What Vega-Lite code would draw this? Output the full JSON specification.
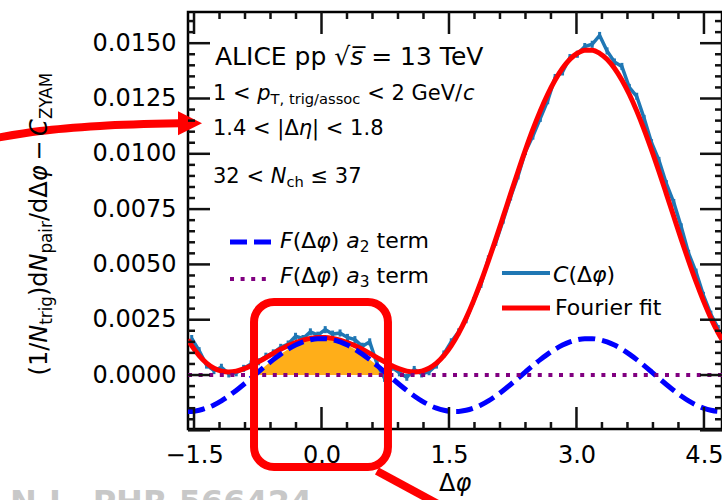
{
  "$schema": "https://vega.github.io/schema/vega-lite/v6.json",
  "width": 534,
  "height": 417,
  "autosize": {"type": "none"},
  "padding": {"left": 188, "top": 12, "right": 0, "bottom": 71},
  "background": "white",
  "config": {
    "view": {"stroke": "black", "strokeWidth": 2.5},
    "font": "DejaVu Sans",
    "axis": {"grid": false, "domain": false, "labelColor": "black", "labelFont": "DejaVu Sans", "labelFontSize": 24, "labelOverlap": false, "labelFlush": false}
  },
  "datasets": {
    "obs": [
      {"x": -1.5272, "y": 0.00165, "err": 0.00016}, {"x": -1.4399, "y": 0.0011, "err": 0.00016},
      {"x": -1.3526, "y": 0.00045, "err": 0.00016}, {"x": -1.2654, "y": 0.0002, "err": 0.00016},
      {"x": -1.1781, "y": 0.00035, "err": 0.00016}, {"x": -1.0908, "y": 0.00005, "err": 0.00016},
      {"x": -1.0036, "y": 0.0001, "err": 0.00016}, {"x": -0.9163, "y": 0.0003, "err": 0.00016},
      {"x": -0.829, "y": 0.0005, "err": 0.00016}, {"x": -0.7418, "y": 0.0006, "err": 0.00016},
      {"x": -0.6545, "y": 0.00085, "err": 0.00016}, {"x": -0.5672, "y": 0.001, "err": 0.00016},
      {"x": -0.48, "y": 0.00125, "err": 0.00016}, {"x": -0.3927, "y": 0.0014, "err": 0.00016},
      {"x": -0.3054, "y": 0.00175, "err": 0.00016}, {"x": -0.2182, "y": 0.00165, "err": 0.00016},
      {"x": -0.1309, "y": 0.00195, "err": 0.00016}, {"x": -0.0436, "y": 0.0018, "err": 0.00016},
      {"x": 0.0436, "y": 0.00205, "err": 0.00016}, {"x": 0.1309, "y": 0.00185, "err": 0.00016},
      {"x": 0.2182, "y": 0.0019, "err": 0.00016}, {"x": 0.3054, "y": 0.0017, "err": 0.00016},
      {"x": 0.3927, "y": 0.0016, "err": 0.00016}, {"x": 0.48, "y": 0.0013, "err": 0.00016},
      {"x": 0.5672, "y": 0.0015, "err": 0.00016}, {"x": 0.6545, "y": 0.0005, "err": 0.00016},
      {"x": 0.7418, "y": -0.00015, "err": 0.00016}, {"x": 0.829, "y": 0.00035, "err": 0.00016},
      {"x": 0.9163, "y": 0.0001, "err": 0.00016}, {"x": 1.0036, "y": -0.0001, "err": 0.00016},
      {"x": 1.0908, "y": 0.00025, "err": 0.00016}, {"x": 1.1781, "y": 0.00005, "err": 0.00016},
      {"x": 1.2654, "y": 0.00015, "err": 0.00016}, {"x": 1.3526, "y": 0.00045, "err": 0.00016},
      {"x": 1.4399, "y": 0.00095, "err": 0.00016}, {"x": 1.5272, "y": 0.0015, "err": 0.00016},
      {"x": 1.6144, "y": 0.00195, "err": 0.00016}, {"x": 1.7017, "y": 0.0025, "err": 0.00016},
      {"x": 1.789, "y": 0.00335, "err": 0.00016}, {"x": 1.8762, "y": 0.0041, "err": 0.00016},
      {"x": 1.9635, "y": 0.00525, "err": 0.00016}, {"x": 2.0508, "y": 0.006, "err": 0.00016},
      {"x": 2.138, "y": 0.007, "err": 0.00016}, {"x": 2.2253, "y": 0.00805, "err": 0.00016},
      {"x": 2.3126, "y": 0.009, "err": 0.00016}, {"x": 2.3998, "y": 0.0101, "err": 0.00016},
      {"x": 2.4871, "y": 0.0108, "err": 0.00016}, {"x": 2.5744, "y": 0.0116, "err": 0.00016},
      {"x": 2.6616, "y": 0.0124, "err": 0.00016}, {"x": 2.7489, "y": 0.01345, "err": 0.00016},
      {"x": 2.8362, "y": 0.0137, "err": 0.00016}, {"x": 2.9234, "y": 0.01435, "err": 0.00016},
      {"x": 3.0107, "y": 0.0145, "err": 0.00016}, {"x": 3.098, "y": 0.01485, "err": 0.00016},
      {"x": 3.1852, "y": 0.01495, "err": 0.00016}, {"x": 3.2725, "y": 0.01535, "err": 0.00016},
      {"x": 3.3598, "y": 0.01465, "err": 0.00016}, {"x": 3.447, "y": 0.01415, "err": 0.00016},
      {"x": 3.5343, "y": 0.01395, "err": 0.00016}, {"x": 3.6216, "y": 0.013, "err": 0.00016},
      {"x": 3.7088, "y": 0.0126, "err": 0.00016}, {"x": 3.7961, "y": 0.0116, "err": 0.00016},
      {"x": 3.8834, "y": 0.0105, "err": 0.00016}, {"x": 3.9706, "y": 0.0097, "err": 0.00016},
      {"x": 4.0579, "y": 0.00865, "err": 0.00016}, {"x": 4.1452, "y": 0.0078, "err": 0.00016},
      {"x": 4.2324, "y": 0.0067, "err": 0.00016}, {"x": 4.3197, "y": 0.0055, "err": 0.00016},
      {"x": 4.407, "y": 0.00465, "err": 0.00016}, {"x": 4.4942, "y": 0.0036, "err": 0.00016},
      {"x": 4.5815, "y": 0.00275, "err": 0.00016}, {"x": 4.6688, "y": 0.0021, "err": 0.00016}
    ],
    "fit": [
      {"x": -1.5708, "y": 0.0016}, {"x": -1.5272, "y": 0.001331}, {"x": -1.4399, "y": 0.000877},
      {"x": -1.3526, "y": 0.000538}, {"x": -1.2654, "y": 0.000308}, {"x": -1.1781, "y": 0.000179},
      {"x": -1.0908, "y": 0.00014}, {"x": -1.0036, "y": 0.000177}, {"x": -0.9163, "y": 0.000276},
      {"x": -0.829, "y": 0.00042}, {"x": -0.7418, "y": 0.000594}, {"x": -0.6545, "y": 0.000784},
      {"x": -0.5672, "y": 0.000977}, {"x": -0.48, "y": 0.001161}, {"x": -0.3927, "y": 0.001328},
      {"x": -0.3054, "y": 0.00147}, {"x": -0.2182, "y": 0.001581}, {"x": -0.1309, "y": 0.001657},
      {"x": -0.0436, "y": 0.001695}, {"x": 0.0436, "y": 0.001695}, {"x": 0.1309, "y": 0.001657},
      {"x": 0.2182, "y": 0.001581}, {"x": 0.3054, "y": 0.00147}, {"x": 0.3927, "y": 0.001328},
      {"x": 0.48, "y": 0.001161}, {"x": 0.5672, "y": 0.000977}, {"x": 0.6545, "y": 0.000784},
      {"x": 0.7418, "y": 0.000594}, {"x": 0.829, "y": 0.00042}, {"x": 0.9163, "y": 0.000276},
      {"x": 1.0036, "y": 0.000177}, {"x": 1.0908, "y": 0.00014}, {"x": 1.1781, "y": 0.000179},
      {"x": 1.2654, "y": 0.000308}, {"x": 1.3526, "y": 0.000538}, {"x": 1.4399, "y": 0.000877},
      {"x": 1.5272, "y": 0.001331}, {"x": 1.6144, "y": 0.001898}, {"x": 1.7017, "y": 0.002574},
      {"x": 1.789, "y": 0.003352}, {"x": 1.8762, "y": 0.004217}, {"x": 1.9635, "y": 0.005154},
      {"x": 2.0508, "y": 0.006143}, {"x": 2.138, "y": 0.007162}, {"x": 2.2253, "y": 0.008189},
      {"x": 2.3126, "y": 0.009202}, {"x": 2.3998, "y": 0.010178}, {"x": 2.4871, "y": 0.011098},
      {"x": 2.5744, "y": 0.011941}, {"x": 2.6616, "y": 0.012693}, {"x": 2.7489, "y": 0.013339},
      {"x": 2.8362, "y": 0.013868}, {"x": 2.9234, "y": 0.014273}, {"x": 3.0107, "y": 0.014545},
      {"x": 3.098, "y": 0.014683}, {"x": 3.1852, "y": 0.014683}, {"x": 3.2725, "y": 0.014545},
      {"x": 3.3598, "y": 0.014273}, {"x": 3.447, "y": 0.013868}, {"x": 3.5343, "y": 0.013339},
      {"x": 3.6216, "y": 0.012693}, {"x": 3.7088, "y": 0.011941}, {"x": 3.7961, "y": 0.011098},
      {"x": 3.8834, "y": 0.010178}, {"x": 3.9706, "y": 0.009202}, {"x": 4.0579, "y": 0.008189},
      {"x": 4.1452, "y": 0.007162}, {"x": 4.2324, "y": 0.006143}, {"x": 4.3197, "y": 0.005154},
      {"x": 4.407, "y": 0.004217}, {"x": 4.4942, "y": 0.003352}, {"x": 4.5815, "y": 0.002574},
      {"x": 4.6688, "y": 0.001898}, {"x": 4.7124, "y": 0.0016}
    ],
    "a2term": [
      {"x": -1.5708, "y": -0.00165}, {"x": -1.5272, "y": -0.001644}, {"x": -1.4399, "y": -0.001594},
      {"x": -1.3526, "y": -0.001495}, {"x": -1.2654, "y": -0.001352}, {"x": -1.1781, "y": -0.001167},
      {"x": -1.0908, "y": -0.000946}, {"x": -1.0036, "y": -0.000697}, {"x": -0.9163, "y": -0.000427},
      {"x": -0.829, "y": -0.000144}, {"x": -0.7418, "y": 0.000144}, {"x": -0.6545, "y": 0.000427},
      {"x": -0.5672, "y": 0.000697}, {"x": -0.48, "y": 0.000946}, {"x": -0.3927, "y": 0.001167},
      {"x": -0.3054, "y": 0.001352}, {"x": -0.2182, "y": 0.001495}, {"x": -0.1309, "y": 0.001594},
      {"x": -0.0436, "y": 0.001644}, {"x": 0.0436, "y": 0.001644}, {"x": 0.1309, "y": 0.001594},
      {"x": 0.2182, "y": 0.001495}, {"x": 0.3054, "y": 0.001352}, {"x": 0.3927, "y": 0.001167},
      {"x": 0.48, "y": 0.000946}, {"x": 0.5672, "y": 0.000697}, {"x": 0.6545, "y": 0.000427},
      {"x": 0.7418, "y": 0.000144}, {"x": 0.829, "y": -0.000144}, {"x": 0.9163, "y": -0.000427},
      {"x": 1.0036, "y": -0.000697}, {"x": 1.0908, "y": -0.000946}, {"x": 1.1781, "y": -0.001167},
      {"x": 1.2654, "y": -0.001352}, {"x": 1.3526, "y": -0.001495}, {"x": 1.4399, "y": -0.001594},
      {"x": 1.5272, "y": -0.001644}, {"x": 1.6144, "y": -0.001644}, {"x": 1.7017, "y": -0.001594},
      {"x": 1.789, "y": -0.001495}, {"x": 1.8762, "y": -0.001352}, {"x": 1.9635, "y": -0.001167},
      {"x": 2.0508, "y": -0.000946}, {"x": 2.138, "y": -0.000697}, {"x": 2.2253, "y": -0.000427},
      {"x": 2.3126, "y": -0.000144}, {"x": 2.3998, "y": 0.000144}, {"x": 2.4871, "y": 0.000427},
      {"x": 2.5744, "y": 0.000697}, {"x": 2.6616, "y": 0.000946}, {"x": 2.7489, "y": 0.001167},
      {"x": 2.8362, "y": 0.001352}, {"x": 2.9234, "y": 0.001495}, {"x": 3.0107, "y": 0.001594},
      {"x": 3.098, "y": 0.001644}, {"x": 3.1852, "y": 0.001644}, {"x": 3.2725, "y": 0.001594},
      {"x": 3.3598, "y": 0.001495}, {"x": 3.447, "y": 0.001352}, {"x": 3.5343, "y": 0.001167},
      {"x": 3.6216, "y": 0.000946}, {"x": 3.7088, "y": 0.000697}, {"x": 3.7961, "y": 0.000427},
      {"x": 3.8834, "y": 0.000144}, {"x": 3.9706, "y": -0.000144}, {"x": 4.0579, "y": -0.000427},
      {"x": 4.1452, "y": -0.000697}, {"x": 4.2324, "y": -0.000946}, {"x": 4.3197, "y": -0.001167},
      {"x": 4.407, "y": -0.001352}, {"x": 4.4942, "y": -0.001495}, {"x": 4.5815, "y": -0.001594},
      {"x": 4.6688, "y": -0.001644}, {"x": 4.7124, "y": -0.00165}
    ],
    "nearside": [
      {"x": -0.7854, "y": 0}, {"x": -0.7418, "y": 0.000144}, {"x": -0.6545, "y": 0.000427},
      {"x": -0.5672, "y": 0.000697}, {"x": -0.48, "y": 0.000946}, {"x": -0.3927, "y": 0.001167},
      {"x": -0.3054, "y": 0.001352}, {"x": -0.2182, "y": 0.001495}, {"x": -0.1309, "y": 0.001594},
      {"x": -0.0436, "y": 0.001644}, {"x": 0.0436, "y": 0.001644}, {"x": 0.1309, "y": 0.001594},
      {"x": 0.2182, "y": 0.001495}, {"x": 0.3054, "y": 0.001352}, {"x": 0.3927, "y": 0.001167},
      {"x": 0.48, "y": 0.000946}, {"x": 0.5672, "y": 0.000697}, {"x": 0.6545, "y": 0.000427},
      {"x": 0.7418, "y": 0.000144}, {"x": 0.7854, "y": 0}
    ],
    "a3term": [{"x": -1.5708, "y": 0}, {"x": 4.7124, "y": 0}]
  },
  "layer": [
    {
      "data": {"name": "nearside"},
      "mark": {"type": "area", "color": "#ffa500", "opacity": 0.9, "clip": true},
      "encoding": {
        "x": {"field": "x", "type": "quantitative", "scale": {"domain": [-1.5708, 4.7124], "nice": false, "zero": false},
              "axis": {"orient": "bottom", "values": [-1.5, 0, 1.5, 3, 4.5], "format": ".1f", "ticks": false, "labelPadding": 14, "title": null}},
        "y": {"field": "y", "type": "quantitative", "scale": {"domain": [-0.00244, 0.01641], "nice": false, "zero": false},
              "axis": {"orient": "left", "values": [-0.0025, 0, 0.0025, 0.005, 0.0075, 0.01, 0.0125, 0.015], "format": ".4f", "ticks": false, "labelPadding": 12, "title": null}},
        "y2": {"datum": 0}
      }
    },
    {
      "data": {"name": "obs"},
      "mark": {"type": "line", "color": "#1f77b4", "strokeWidth": 3.5, "clip": true},
      "encoding": {"x": {"field": "x", "type": "quantitative"}, "y": {"field": "y", "type": "quantitative"}}
    },
    {
      "data": {"name": "obs"},
      "mark": {"type": "errorbar", "color": "#1f77b4", "thickness": 3},
      "encoding": {"x": {"field": "x", "type": "quantitative"}, "y": {"field": "y", "type": "quantitative"}, "yError": {"field": "err"}}
    },
    {
      "data": {"name": "fit"},
      "mark": {"type": "line", "color": "#ff0000", "strokeWidth": 5, "interpolate": "monotone", "clip": true},
      "encoding": {"x": {"field": "x", "type": "quantitative"}, "y": {"field": "y", "type": "quantitative"}}
    },
    {
      "data": {"name": "a2term"},
      "mark": {"type": "line", "color": "#0000ff", "strokeWidth": 5, "strokeDash": [17, 7], "interpolate": "monotone", "clip": true},
      "encoding": {"x": {"field": "x", "type": "quantitative"}, "y": {"field": "y", "type": "quantitative"}}
    },
    {
      "data": {"name": "a3term"},
      "mark": {"type": "line", "color": "#800080", "strokeWidth": 4, "strokeDash": [4, 6.6], "clip": true},
      "encoding": {"x": {"field": "x", "type": "quantitative"}, "y": {"field": "y", "type": "quantitative"}}
    },
    {
      "data": {"values": [{"x": -1.0766, "y": 0.006012}, {"x": -0.5824, "y": 0.006012}]},
      "mark": {"type": "line", "color": "#0000ff", "strokeWidth": 5, "strokeDash": [17, 7]},
      "encoding": {"x": {"field": "x", "type": "quantitative"}, "y": {"field": "y", "type": "quantitative"}}
    },
    {
      "data": {"values": [{"x": -1.0766, "y": 0.00434}, {"x": -0.5824, "y": 0.00434}]},
      "mark": {"type": "line", "color": "#800080", "strokeWidth": 4, "strokeDash": [4, 6.6]},
      "encoding": {"x": {"field": "x", "type": "quantitative"}, "y": {"field": "y", "type": "quantitative"}}
    },
    {
      "data": {"values": [{"x": 2.1238, "y": 0.004611}, {"x": 2.6886, "y": 0.004611}]},
      "mark": {"type": "line", "color": "#1f77b4", "strokeWidth": 4},
      "encoding": {"x": {"field": "x", "type": "quantitative"}, "y": {"field": "y", "type": "quantitative"}}
    },
    {
      "data": {"values": [{"x": 2.1238, "y": 0.003029}, {"x": 2.6886, "y": 0.003029}]},
      "mark": {"type": "line", "color": "#ff0000", "strokeWidth": 5},
      "encoding": {"x": {"field": "x", "type": "quantitative"}, "y": {"field": "y", "type": "quantitative"}}
    },
    {
      "data": {"values": [{"x1": -0.794, "x2": 0.782, "y1": 0.0033, "y2": -0.00416}]},
      "mark": {"type": "rect", "fillOpacity": 0, "stroke": "#ff0000", "strokeWidth": 8, "cornerRadius": 20, "clip": false},
      "encoding": {"x": {"field": "x1", "type": "quantitative"}, "x2": {"field": "x2"}, "y": {"field": "y1", "type": "quantitative"}, "y2": {"field": "y2"}}
    },
    {
      "data": {"values": [{"x": 0.652, "y": -0.00434}, {"x": 1.394, "y": -0.00588}]},
      "mark": {"type": "line", "color": "#ff0000", "strokeWidth": 8},
      "encoding": {"x": {"field": "x", "type": "quantitative"}, "y": {"field": "y", "type": "quantitative"}}
    },
    {
      "data": {"values": [{"x": -3.9, "y": 0.01067}, {"x": -3.312, "y": 0.01103}, {"x": -2.606, "y": 0.01126}, {"x": -1.665, "y": 0.01138}]},
      "mark": {"type": "line", "color": "#ff0000", "strokeWidth": 8, "interpolate": "monotone"},
      "encoding": {"x": {"field": "x", "type": "quantitative"}, "y": {"field": "y", "type": "quantitative"}}
    },
    {
      "data": {"values": [{"x": -1.547, "y": 0.011378}]},
      "mark": {"type": "point", "shape": "M -1 -1 L 1 0 L -1 1 Z", "size": 576, "filled": true, "color": "#ff0000", "opacity": 1},
      "encoding": {"x": {"field": "x", "type": "quantitative"}, "y": {"field": "y", "type": "quantitative"}}
    },
    {
      "data": {"values": [{"x": -3.665, "y": -0.006238, "t": "N.L. PHR 566424"}]},
      "mark": {"type": "text", "align": "left", "baseline": "alphabetic", "fontSize": 32, "fontWeight": "bold", "color": "#c8c8c8"},
      "encoding": {"x": {"field": "x", "type": "quantitative"}, "y": {"field": "y", "type": "quantitative"}, "text": {"field": "t"}}
    },
    {
      "data": {"values": [{"x": -1.2531, "y": 0.014013, "t": "ALICE pp"}, {"x": 0.1506, "y": 0.014013, "t": "√"}, {"x": 0.5848, "y": 0.014013, "t": "= 13 TeV"}]},
      "mark": {"type": "text", "align": "left", "baseline": "alphabetic", "fontSize": 25, "color": "black"},
      "encoding": {"x": {"field": "x", "type": "quantitative"}, "y": {"field": "y", "type": "quantitative"}, "text": {"field": "t"}}
    },
    {
      "data": {"values": [{"x": 0.3377, "y": 0.014013, "t": "s̅"}]},
      "mark": {"type": "text", "align": "left", "baseline": "alphabetic", "fontSize": 25, "fontStyle": "italic", "color": "black"},
      "encoding": {"x": {"field": "x", "type": "quantitative"}, "y": {"field": "y", "type": "quantitative"}, "text": {"field": "t"}}
    },
    {
      "data": {"values": [
        {"x": -1.2767, "y": 0.012431, "t": "1 <"}, {"x": 0.5377, "y": 0.012431, "t": "< 2 GeV/"},
        {"x": -1.2767, "y": 0.010849, "t": "1.4 < |Δ"}, {"x": -0.1106, "y": 0.010849, "t": "| < 1.8"},
        {"x": -1.2767, "y": 0.008679, "t": "32 <"}, {"x": -0.1294, "y": 0.008679, "t": "≤ 37"}
      ]},
      "mark": {"type": "text", "align": "left", "baseline": "alphabetic", "fontSize": 21, "color": "black"},
      "encoding": {"x": {"field": "x", "type": "quantitative"}, "y": {"field": "y", "type": "quantitative"}, "text": {"field": "t"}}
    },
    {
      "data": {"values": [
        {"x": -0.7554, "y": 0.012431, "t": "p"}, {"x": 1.665, "y": 0.012431, "t": "c"},
        {"x": -0.2671, "y": 0.010849, "t": "η"}, {"x": -0.5977, "y": 0.008679, "t": "N"}
      ]},
      "mark": {"type": "text", "align": "left", "baseline": "alphabetic", "fontSize": 21, "fontStyle": "italic", "color": "black"},
      "encoding": {"x": {"field": "x", "type": "quantitative"}, "y": {"field": "y", "type": "quantitative"}, "text": {"field": "t"}}
    },
    {
      "data": {"values": [{"x": -0.5989, "y": 0.012273, "t": "T, trig/assoc"}, {"x": -0.413, "y": 0.008521, "t": "ch"}]},
      "mark": {"type": "text", "align": "left", "baseline": "alphabetic", "fontSize": 14.7, "color": "black"},
      "encoding": {"x": {"field": "x", "type": "quantitative"}, "y": {"field": "y", "type": "quantitative"}, "text": {"field": "t"}}
    },
    {
      "data": {"values": [
        {"x": -0.3395, "y": 0.005741, "t": "(Δ"}, {"x": 0.1082, "y": 0.005741, "t": ")"}, {"x": 0.6483, "y": 0.005741, "t": "term"},
        {"x": -0.3395, "y": 0.004159, "t": "(Δ"}, {"x": 0.1082, "y": 0.004159, "t": ")"}, {"x": 0.6483, "y": 0.004159, "t": "term"},
        {"x": 2.9051, "y": 0.004204, "t": "(Δ"}, {"x": 3.3522, "y": 0.004204, "t": ")"},
        {"x": 2.7474, "y": 0.002712, "t": "Fourier fit"}
      ]},
      "mark": {"type": "text", "align": "left", "baseline": "alphabetic", "fontSize": 22, "color": "black"},
      "encoding": {"x": {"field": "x", "type": "quantitative"}, "y": {"field": "y", "type": "quantitative"}, "text": {"field": "t"}}
    },
    {
      "data": {"values": [
        {"x": -0.4883, "y": 0.005741, "t": "F"}, {"x": -0.0612, "y": 0.005741, "t": "φ"}, {"x": 0.2918, "y": 0.005741, "t": "a"},
        {"x": -0.4883, "y": 0.004159, "t": "F"}, {"x": -0.0612, "y": 0.004159, "t": "φ"}, {"x": 0.2918, "y": 0.004159, "t": "a"},
        {"x": 2.7239, "y": 0.004204, "t": "C"}, {"x": 3.1828, "y": 0.004204, "t": "φ"}
      ]},
      "mark": {"type": "text", "align": "left", "baseline": "alphabetic", "fontSize": 22, "fontStyle": "italic", "color": "black"},
      "encoding": {"x": {"field": "x", "type": "quantitative"}, "y": {"field": "y", "type": "quantitative"}, "text": {"field": "t"}}
    },
    {
      "data": {"values": [{"x": 0.4506, "y": 0.005583, "t": "2"}, {"x": 0.4506, "y": 0.004001, "t": "3"}]},
      "mark": {"type": "text", "align": "left", "baseline": "alphabetic", "fontSize": 15.4, "color": "black"},
      "encoding": {"x": {"field": "x", "type": "quantitative"}, "y": {"field": "y", "type": "quantitative"}, "text": {"field": "t"}}
    },
    {
      "data": {"values": [
        {"x": -3.23, "y": -0.00002, "t": "(1/"}, {"x": -3.23, "y": 0.00357, "t": ")d"},
        {"x": -3.23, "y": 0.00696, "t": "/dΔ"}, {"x": -3.23, "y": 0.009683, "t": "−"}
      ]},
      "mark": {"type": "text", "align": "left", "baseline": "alphabetic", "angle": 270, "fontSize": 24, "color": "black"},
      "encoding": {"x": {"field": "x", "type": "quantitative"}, "y": {"field": "y", "type": "quantitative"}, "text": {"field": "t"}}
    },
    {
      "data": {"values": [
        {"x": -3.23, "y": 0.00146, "t": "N"}, {"x": -3.23, "y": 0.00468, "t": "N"},
        {"x": -3.23, "y": 0.00876, "t": "φ"}, {"x": -3.23, "y": 0.01081, "t": "C"}
      ]},
      "mark": {"type": "text", "align": "left", "baseline": "alphabetic", "angle": 270, "fontSize": 24, "fontStyle": "italic", "color": "black"},
      "encoding": {"x": {"field": "x", "type": "quantitative"}, "y": {"field": "y", "type": "quantitative"}, "text": {"field": "t"}}
    },
    {
      "data": {"values": [
        {"x": -3.171, "y": 0.00227, "t": "trig"}, {"x": -3.171, "y": 0.00549, "t": "pair"}, {"x": -3.171, "y": 0.01157, "t": "ZYAM"}
      ]},
      "mark": {"type": "text", "align": "left", "baseline": "alphabetic", "angle": 270, "fontSize": 16.8, "color": "black"},
      "encoding": {"x": {"field": "x", "type": "quantitative"}, "y": {"field": "y", "type": "quantitative"}, "text": {"field": "t"}}
    },
    {
      "data": {"values": [{"x": 1.3825, "y": -0.005244, "t": "Δ"}]},
      "mark": {"type": "text", "align": "left", "baseline": "alphabetic", "fontSize": 24, "color": "black"},
      "encoding": {"x": {"field": "x", "type": "quantitative"}, "y": {"field": "y", "type": "quantitative"}, "text": {"field": "t"}}
    },
    {
      "data": {"values": [{"x": 1.5755, "y": -0.005244, "t": "φ"}]},
      "mark": {"type": "text", "align": "left", "baseline": "alphabetic", "fontSize": 24, "fontStyle": "italic", "color": "black"},
      "encoding": {"x": {"field": "x", "type": "quantitative"}, "y": {"field": "y", "type": "quantitative"}, "text": {"field": "t"}}
    },
    {
      "data": {"values": [
        {"x": -1.5, "y": -0.00244, "y2": -0.001446}, {"x": 0, "y": -0.00244, "y2": -0.001446}, {"x": 1.5, "y": -0.00244, "y2": -0.001446},
        {"x": 3, "y": -0.00244, "y2": -0.001446}, {"x": 4.5, "y": -0.00244, "y2": -0.001446},
        {"x": -1.5, "y": 0.01641, "y2": 0.015416}, {"x": 0, "y": 0.01641, "y2": 0.015416}, {"x": 1.5, "y": 0.01641, "y2": 0.015416},
        {"x": 3, "y": 0.01641, "y2": 0.015416}, {"x": 4.5, "y": 0.01641, "y2": 0.015416},
        {"x": -1.2, "y": -0.00244, "y2": -0.002124}, {"x": -0.9, "y": -0.00244, "y2": -0.002124}, {"x": -0.6, "y": -0.00244, "y2": -0.002124},
        {"x": -0.3, "y": -0.00244, "y2": -0.002124}, {"x": 0.3, "y": -0.00244, "y2": -0.002124}, {"x": 0.6, "y": -0.00244, "y2": -0.002124},
        {"x": 0.9, "y": -0.00244, "y2": -0.002124}, {"x": 1.2, "y": -0.00244, "y2": -0.002124}, {"x": 1.8, "y": -0.00244, "y2": -0.002124},
        {"x": 2.1, "y": -0.00244, "y2": -0.002124}, {"x": 2.4, "y": -0.00244, "y2": -0.002124}, {"x": 2.7, "y": -0.00244, "y2": -0.002124},
        {"x": 3.3, "y": -0.00244, "y2": -0.002124}, {"x": 3.6, "y": -0.00244, "y2": -0.002124}, {"x": 3.9, "y": -0.00244, "y2": -0.002124},
        {"x": 4.2, "y": -0.00244, "y2": -0.002124},
        {"x": -1.2, "y": 0.01641, "y2": 0.016094}, {"x": -0.9, "y": 0.01641, "y2": 0.016094}, {"x": -0.6, "y": 0.01641, "y2": 0.016094},
        {"x": -0.3, "y": 0.01641, "y2": 0.016094}, {"x": 0.3, "y": 0.01641, "y2": 0.016094}, {"x": 0.6, "y": 0.01641, "y2": 0.016094},
        {"x": 0.9, "y": 0.01641, "y2": 0.016094}, {"x": 1.2, "y": 0.01641, "y2": 0.016094}, {"x": 1.8, "y": 0.01641, "y2": 0.016094},
        {"x": 2.1, "y": 0.01641, "y2": 0.016094}, {"x": 2.4, "y": 0.01641, "y2": 0.016094}, {"x": 2.7, "y": 0.01641, "y2": 0.016094},
        {"x": 3.3, "y": 0.01641, "y2": 0.016094}, {"x": 3.6, "y": 0.01641, "y2": 0.016094}, {"x": 3.9, "y": 0.01641, "y2": 0.016094},
        {"x": 4.2, "y": 0.01641, "y2": 0.016094}
      ]},
      "mark": {"type": "rule", "color": "#111111", "strokeWidth": 2.5},
      "encoding": {"x": {"field": "x", "type": "quantitative"}, "y": {"field": "y", "type": "quantitative"}, "y2": {"field": "y2"}}
    },
    {
      "data": {"values": [
        {"x": -1.5708, "x2": -1.3119, "y": -0.0025}, {"x": -1.5708, "x2": -1.3119, "y": 0}, {"x": -1.5708, "x2": -1.3119, "y": 0.0025},
        {"x": -1.5708, "x2": -1.3119, "y": 0.005}, {"x": -1.5708, "x2": -1.3119, "y": 0.0075}, {"x": -1.5708, "x2": -1.3119, "y": 0.01},
        {"x": -1.5708, "x2": -1.3119, "y": 0.0125}, {"x": -1.5708, "x2": -1.3119, "y": 0.015},
        {"x": 4.7124, "x2": 4.4535, "y": -0.0025}, {"x": 4.7124, "x2": 4.4535, "y": 0}, {"x": 4.7124, "x2": 4.4535, "y": 0.0025},
        {"x": 4.7124, "x2": 4.4535, "y": 0.005}, {"x": 4.7124, "x2": 4.4535, "y": 0.0075}, {"x": 4.7124, "x2": 4.4535, "y": 0.01},
        {"x": 4.7124, "x2": 4.4535, "y": 0.0125}, {"x": 4.7124, "x2": 4.4535, "y": 0.015},
        {"x": -1.5708, "x2": -1.4884, "y": -0.002}, {"x": -1.5708, "x2": -1.4884, "y": -0.0015}, {"x": -1.5708, "x2": -1.4884, "y": -0.001},
        {"x": -1.5708, "x2": -1.4884, "y": -0.0005}, {"x": -1.5708, "x2": -1.4884, "y": 0.0005}, {"x": -1.5708, "x2": -1.4884, "y": 0.001},
        {"x": -1.5708, "x2": -1.4884, "y": 0.0015}, {"x": -1.5708, "x2": -1.4884, "y": 0.002}, {"x": -1.5708, "x2": -1.4884, "y": 0.003},
        {"x": -1.5708, "x2": -1.4884, "y": 0.0035}, {"x": -1.5708, "x2": -1.4884, "y": 0.004}, {"x": -1.5708, "x2": -1.4884, "y": 0.0045},
        {"x": -1.5708, "x2": -1.4884, "y": 0.0055}, {"x": -1.5708, "x2": -1.4884, "y": 0.006}, {"x": -1.5708, "x2": -1.4884, "y": 0.0065},
        {"x": -1.5708, "x2": -1.4884, "y": 0.007}, {"x": -1.5708, "x2": -1.4884, "y": 0.008}, {"x": -1.5708, "x2": -1.4884, "y": 0.0085},
        {"x": -1.5708, "x2": -1.4884, "y": 0.009}, {"x": -1.5708, "x2": -1.4884, "y": 0.0095}, {"x": -1.5708, "x2": -1.4884, "y": 0.0105},
        {"x": -1.5708, "x2": -1.4884, "y": 0.011}, {"x": -1.5708, "x2": -1.4884, "y": 0.0115}, {"x": -1.5708, "x2": -1.4884, "y": 0.012},
        {"x": -1.5708, "x2": -1.4884, "y": 0.013}, {"x": -1.5708, "x2": -1.4884, "y": 0.0135}, {"x": -1.5708, "x2": -1.4884, "y": 0.014},
        {"x": -1.5708, "x2": -1.4884, "y": 0.0145}, {"x": -1.5708, "x2": -1.4884, "y": 0.0155}, {"x": -1.5708, "x2": -1.4884, "y": 0.016},
        {"x": 4.7124, "x2": 4.63, "y": -0.002}, {"x": 4.7124, "x2": 4.63, "y": -0.0015}, {"x": 4.7124, "x2": 4.63, "y": -0.001},
        {"x": 4.7124, "x2": 4.63, "y": -0.0005}, {"x": 4.7124, "x2": 4.63, "y": 0.0005}, {"x": 4.7124, "x2": 4.63, "y": 0.001},
        {"x": 4.7124, "x2": 4.63, "y": 0.0015}, {"x": 4.7124, "x2": 4.63, "y": 0.002}, {"x": 4.7124, "x2": 4.63, "y": 0.003},
        {"x": 4.7124, "x2": 4.63, "y": 0.0035}, {"x": 4.7124, "x2": 4.63, "y": 0.004}, {"x": 4.7124, "x2": 4.63, "y": 0.0045},
        {"x": 4.7124, "x2": 4.63, "y": 0.0055}, {"x": 4.7124, "x2": 4.63, "y": 0.006}, {"x": 4.7124, "x2": 4.63, "y": 0.0065},
        {"x": 4.7124, "x2": 4.63, "y": 0.007}, {"x": 4.7124, "x2": 4.63, "y": 0.008}, {"x": 4.7124, "x2": 4.63, "y": 0.0085},
        {"x": 4.7124, "x2": 4.63, "y": 0.009}, {"x": 4.7124, "x2": 4.63, "y": 0.0095}, {"x": 4.7124, "x2": 4.63, "y": 0.0105},
        {"x": 4.7124, "x2": 4.63, "y": 0.011}, {"x": 4.7124, "x2": 4.63, "y": 0.0115}, {"x": 4.7124, "x2": 4.63, "y": 0.012},
        {"x": 4.7124, "x2": 4.63, "y": 0.013}, {"x": 4.7124, "x2": 4.63, "y": 0.0135}, {"x": 4.7124, "x2": 4.63, "y": 0.014},
        {"x": 4.7124, "x2": 4.63, "y": 0.0145}, {"x": 4.7124, "x2": 4.63, "y": 0.0155}, {"x": 4.7124, "x2": 4.63, "y": 0.016}
      ]},
      "mark": {"type": "rule", "color": "#111111", "strokeWidth": 2.5},
      "encoding": {"x": {"field": "x", "type": "quantitative"}, "x2": {"field": "x2"}, "y": {"field": "y", "type": "quantitative"}}
    }
  ]
}
